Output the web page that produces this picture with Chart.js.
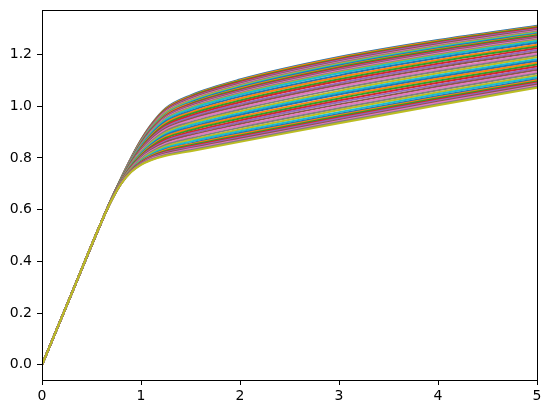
<!DOCTYPE html>
<html>
<head>
<meta charset="utf-8">
<script src="https://cdn.jsdelivr.net/npm/chart.js@4/dist/chart.umd.min.js"></script>
<style>
    body { margin: 0; background: #fff; }
    canvas { display: block; }
</style>
</head>
<body>
<canvas id="curveChart" width="552" height="413"></canvas>
<script>
// --- 1. DATA ---
const xValues = [0, 0.3, 0.6, 0.7, 0.8, 0.9, 1.0, 1.1, 1.25, 1.5, 2, 3, 4, 5];
const sharedStart = [0, 0.276, 0.552]; // all curves overlap up to x = 0.6

// one row per curve, values at x = 0.7 ... 5 (top curve first)
const curveValues = [
    [0.640, 0.722, 0.800, 0.870, 0.928, 0.992, 1.042, 1.103, 1.190, 1.256, 1.311],
    [0.640, 0.722, 0.799, 0.869, 0.926, 0.990, 1.039, 1.100, 1.187, 1.253, 1.308],
    [0.640, 0.721, 0.799, 0.867, 0.924, 0.987, 1.036, 1.097, 1.183, 1.249, 1.305],
    [0.640, 0.721, 0.798, 0.866, 0.923, 0.985, 1.034, 1.094, 1.180, 1.246, 1.302],
    [0.640, 0.721, 0.797, 0.865, 0.921, 0.982, 1.031, 1.090, 1.177, 1.243, 1.299],
    [0.640, 0.721, 0.796, 0.864, 0.919, 0.980, 1.028, 1.087, 1.173, 1.240, 1.295],
    [0.640, 0.720, 0.796, 0.862, 0.917, 0.978, 1.025, 1.084, 1.170, 1.236, 1.292],
    [0.639, 0.720, 0.795, 0.861, 0.916, 0.975, 1.022, 1.081, 1.167, 1.233, 1.289],
    [0.639, 0.720, 0.794, 0.860, 0.914, 0.973, 1.020, 1.078, 1.163, 1.230, 1.286],
    [0.639, 0.719, 0.794, 0.859, 0.912, 0.970, 1.017, 1.075, 1.160, 1.227, 1.283],
    [0.639, 0.719, 0.793, 0.857, 0.910, 0.968, 1.014, 1.072, 1.157, 1.223, 1.280],
    [0.639, 0.719, 0.792, 0.856, 0.908, 0.966, 1.011, 1.069, 1.153, 1.220, 1.277],
    [0.639, 0.719, 0.791, 0.855, 0.907, 0.963, 1.008, 1.065, 1.150, 1.217, 1.274],
    [0.639, 0.718, 0.791, 0.854, 0.905, 0.961, 1.006, 1.062, 1.147, 1.213, 1.270],
    [0.639, 0.718, 0.790, 0.852, 0.903, 0.959, 1.003, 1.059, 1.143, 1.210, 1.267],
    [0.639, 0.718, 0.789, 0.851, 0.901, 0.956, 1.000, 1.056, 1.140, 1.207, 1.264],
    [0.639, 0.717, 0.789, 0.850, 0.900, 0.954, 0.997, 1.053, 1.137, 1.204, 1.261],
    [0.639, 0.717, 0.788, 0.849, 0.898, 0.951, 0.994, 1.050, 1.133, 1.200, 1.258],
    [0.639, 0.717, 0.787, 0.847, 0.896, 0.949, 0.992, 1.047, 1.130, 1.197, 1.255],
    [0.639, 0.717, 0.786, 0.846, 0.894, 0.947, 0.989, 1.044, 1.127, 1.194, 1.252],
    [0.638, 0.716, 0.785, 0.843, 0.890, 0.941, 0.982, 1.037, 1.119, 1.186, 1.245],
    [0.638, 0.715, 0.783, 0.840, 0.886, 0.936, 0.976, 1.030, 1.112, 1.179, 1.238],
    [0.638, 0.715, 0.782, 0.838, 0.882, 0.930, 0.970, 1.022, 1.104, 1.172, 1.231],
    [0.638, 0.714, 0.780, 0.835, 0.878, 0.925, 0.963, 1.015, 1.097, 1.164, 1.224],
    [0.638, 0.713, 0.778, 0.832, 0.874, 0.920, 0.957, 1.008, 1.089, 1.157, 1.217],
    [0.637, 0.713, 0.777, 0.829, 0.870, 0.914, 0.951, 1.001, 1.082, 1.150, 1.210],
    [0.637, 0.712, 0.775, 0.826, 0.866, 0.909, 0.945, 0.994, 1.075, 1.142, 1.203],
    [0.637, 0.711, 0.774, 0.823, 0.862, 0.904, 0.938, 0.987, 1.067, 1.135, 1.196],
    [0.637, 0.711, 0.772, 0.821, 0.858, 0.898, 0.932, 0.980, 1.059, 1.127, 1.189],
    [0.637, 0.710, 0.770, 0.818, 0.854, 0.893, 0.926, 0.973, 1.052, 1.120, 1.182],
    [0.637, 0.710, 0.769, 0.815, 0.850, 0.888, 0.919, 0.966, 1.045, 1.113, 1.175],
    [0.636, 0.709, 0.767, 0.812, 0.846, 0.882, 0.913, 0.959, 1.037, 1.106, 1.168],
    [0.636, 0.708, 0.766, 0.809, 0.842, 0.877, 0.907, 0.952, 1.030, 1.098, 1.161],
    [0.636, 0.708, 0.764, 0.806, 0.838, 0.871, 0.900, 0.945, 1.022, 1.091, 1.154],
    [0.636, 0.707, 0.762, 0.804, 0.834, 0.866, 0.894, 0.938, 1.015, 1.083, 1.147],
    [0.636, 0.706, 0.761, 0.801, 0.830, 0.861, 0.888, 0.931, 1.007, 1.076, 1.140],
    [0.636, 0.706, 0.759, 0.798, 0.826, 0.855, 0.882, 0.924, 1.000, 1.069, 1.133],
    [0.635, 0.705, 0.758, 0.795, 0.822, 0.850, 0.875, 0.917, 0.992, 1.062, 1.126],
    [0.635, 0.704, 0.756, 0.792, 0.818, 0.844, 0.869, 0.910, 0.985, 1.054, 1.119],
    [0.635, 0.704, 0.754, 0.789, 0.814, 0.839, 0.863, 0.903, 0.977, 1.047, 1.112],
    [0.635, 0.703, 0.753, 0.787, 0.810, 0.834, 0.856, 0.896, 0.970, 1.039, 1.105],
    [0.635, 0.703, 0.752, 0.785, 0.808, 0.831, 0.853, 0.892, 0.965, 1.035, 1.100],
    [0.635, 0.702, 0.751, 0.783, 0.805, 0.827, 0.849, 0.887, 0.961, 1.031, 1.096],
    [0.635, 0.702, 0.750, 0.782, 0.803, 0.824, 0.845, 0.883, 0.956, 1.026, 1.092],
    [0.634, 0.702, 0.749, 0.780, 0.801, 0.821, 0.841, 0.879, 0.952, 1.022, 1.088],
    [0.634, 0.701, 0.748, 0.778, 0.798, 0.818, 0.837, 0.875, 0.947, 1.017, 1.084],
    [0.634, 0.701, 0.747, 0.776, 0.796, 0.814, 0.834, 0.870, 0.943, 1.013, 1.079],
    [0.634, 0.700, 0.746, 0.775, 0.793, 0.811, 0.830, 0.866, 0.939, 1.008, 1.075],
    [0.634, 0.700, 0.745, 0.773, 0.791, 0.808, 0.826, 0.862, 0.934, 1.004, 1.071]
];

const xTicks = [0, 1, 2, 3, 4, 5];
const yTicks = [0, 0.2, 0.4, 0.6, 0.8, 1.0, 1.2];

// matplotlib tab10 cycle
const palette = ["#1f77b4", "#ff7f0e", "#2ca02c", "#d62728", "#9467bd",
                 "#8c564b", "#e377c2", "#7f7f7f", "#bcbd22", "#17becf"];

// --- 2. BUILD DATASETS ---
const datasets = curveValues.map((row, i) => {
    const ys = sharedStart.concat(row);
    return {
        data: xValues.map((x, k) => ({ x: x, y: ys[k] })),
        borderColor: palette[i % palette.length],
        borderWidth: 2,
        pointRadius: 0,
        fill: false,
        cubicInterpolationMode: "monotone",
        order: curveValues.length - i // later curves drawn on top, like matplotlib
    };
});

// box round the plot area (top and right spines)
const frameBox = {
    id: "frameBox",
    afterDraw(chart) {
        const { ctx, chartArea } = chart;
        ctx.save();
        ctx.strokeStyle = "#000";
        ctx.lineWidth = 1;
        ctx.strokeRect(Math.round(chartArea.left) + 0.5, Math.round(chartArea.top) + 0.5,
                       Math.round(chartArea.right - chartArea.left), Math.round(chartArea.bottom - chartArea.top));
        ctx.restore();
    }
};

const tickFont = { family: "DejaVu Sans", size: 14 };

// --- 3. DRAW ---
new Chart(document.getElementById("curveChart"), {
    type: "line",
    data: { datasets: datasets },
    options: {
        responsive: false,
        animation: false,
        devicePixelRatio: 1,
        layout: { padding: { top: 10, right: 15, left: 0, bottom: 0 } },
        plugins: { legend: { display: false }, tooltip: { enabled: false } },
        scales: {
            x: {
                type: "linear",
                min: 0,
                max: 5,
                afterBuildTicks: (scale) => { scale.ticks = xTicks.map(v => ({ value: v })); },
                afterFit: (scale) => {
                    scale.height = 33;
                    scale.paddingLeft = 0;
                    scale.paddingRight = 0;
                },
                grid: { drawOnChartArea: false, drawTicks: true, tickLength: 5, color: "#000" },
                border: { color: "#000", width: 1 },
                ticks: { color: "#000", font: tickFont, padding: 3, maxRotation: 0 }
            },
            y: {
                type: "linear",
                min: -0.059,
                max: 1.372,
                afterBuildTicks: (scale) => { scale.ticks = yTicks.map(v => ({ value: v })); },
                afterFit: (scale) => {
                    scale.width = 42;
                    scale.paddingTop = 0;
                    scale.paddingBottom = 0;
                },
                grid: { drawOnChartArea: false, drawTicks: true, tickLength: 5, color: "#000" },
                border: { color: "#000", width: 1 },
                ticks: {
                    color: "#000", font: tickFont, padding: 5,
                    callback: (v) => Number(v).toFixed(1)
                }
            }
        }
    },
    plugins: [frameBox]
});
</script>
</body>
</html>
